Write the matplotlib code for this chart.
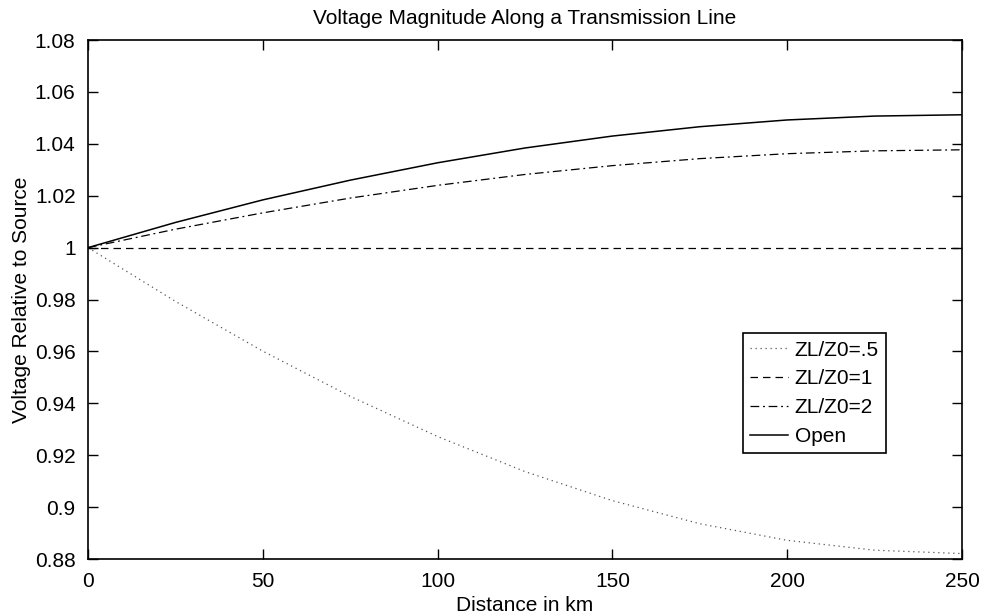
import matplotlib
matplotlib.use('Agg')
import matplotlib.pyplot as plt
from matplotlib.ticker import FuncFormatter

plt.rcParams['font.family'] = ['Liberation Sans', 'DejaVu Sans']

# values, every 25 km
dist_km = [0, 25, 50, 75, 100, 125, 150, 175, 200, 225, 250]
v_half = [1.0, 0.9793, 0.9601, 0.9427, 0.9272, 0.9137, 0.9025, 0.8936, 0.8872, 0.8834, 0.8821]
v_one = [1.0, 1.0, 1.0, 1.0, 1.0, 1.0, 1.0, 1.0, 1.0, 1.0, 1.0]
v_two = [1.0, 1.0071, 1.0134, 1.0191, 1.0240, 1.0282, 1.0316, 1.0343, 1.0362, 1.0373, 1.0377]
v_open = [1.0, 1.0097, 1.0184, 1.0260, 1.0327, 1.0384, 1.0430, 1.0466, 1.0492, 1.0507, 1.0512]
labels = ['ZL/Z0=.5', 'ZL/Z0=1', 'ZL/Z0=2', 'Open']

fig = plt.figure(figsize=(9.89, 6.16), dpi=100)
ax = fig.add_axes([0.089, 0.0925, 0.8837, 0.8425])

ax.plot(dist_km, v_half, color='#555555', lw=0.9, ls=(0, (1, 3)), label=labels[0])
ax.plot(dist_km, v_one, color='black', lw=0.9, ls=(0, (6, 4)), label=labels[1])
ax.plot(dist_km, v_two, color='black', lw=0.9, ls=(0, (7, 3, 1.5, 3)), label=labels[2])
ax.plot(dist_km, v_open, color='black', lw=1.1, ls='-', label=labels[3])

ax.set_xlim(0, 250)
ax.set_ylim(0.88, 1.08)
ax.set_xticks([0, 50, 100, 150, 200, 250])
ax.set_yticks([0.88, 0.9, 0.92, 0.94, 0.96, 0.98, 1.0, 1.02, 1.04, 1.06, 1.08])
ax.yaxis.set_major_formatter(FuncFormatter(lambda v, p: '%g' % round(v, 2)))
ax.tick_params(direction='in', top=True, right=True, length=7, width=1, labelsize=15, pad=9)
for s in ax.spines.values():
    s.set_linewidth(1.2)

ax.set_title('Voltage Magnitude Along a Transmission Line', fontsize=15, pad=11.5)
ax.set_xlabel('Distance in km', fontsize=15, labelpad=4)
ax.set_ylabel('Voltage Relative to Source', fontsize=15, labelpad=3)

leg = ax.legend(loc='upper left', bbox_to_anchor=(0.749, 0.435), fontsize=15,
                fancybox=False, edgecolor='black', framealpha=1,
                handlelength=1.85, handletextpad=0.3, borderpad=0.35,
                labelspacing=0.47, borderaxespad=0)
leg.get_frame().set_linewidth(1.2)

fig.savefig('out.png', dpi=100)
